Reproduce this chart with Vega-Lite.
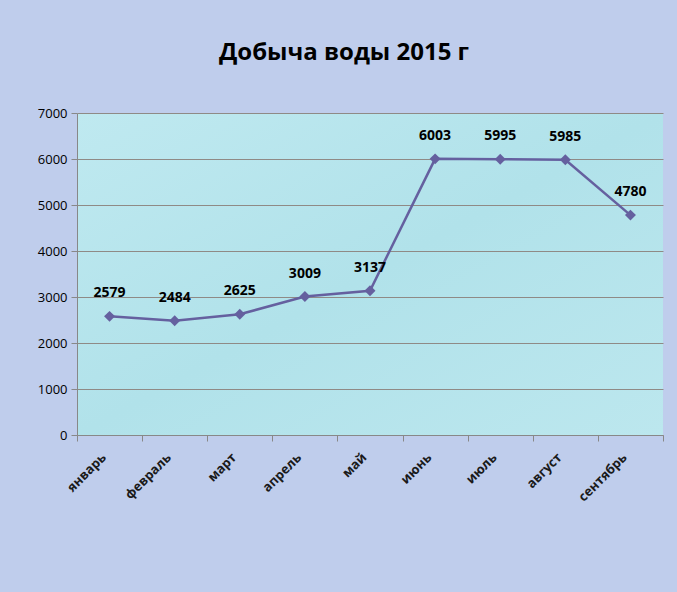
{
  "$schema": "https://vega.github.io/schema/vega-lite/v6.json",
  "autosize": "none",
  "width": 586,
  "height": 322,
  "padding": {"left": 77, "top": 113, "right": 14, "bottom": 157},
  "background": "#bfcdec",
  "title": {
    "text": "Добыча воды 2015 г",
    "font": "Open Sans",
    "fontSize": 24,
    "fontWeight": "bold",
    "color": "#000000",
    "anchor": "middle",
    "dx": -26,
    "offset": 42
  },
  "config": {
    "view": {
      "stroke": null,
      "fill": {
        "gradient": "linear",
        "x1": 0, "y1": 0, "x2": 1, "y2": 1,
        "stops": [
          {"offset": 0, "color": "#bfe9f0"},
          {"offset": 0.5, "color": "#b1e2ea"},
          {"offset": 1, "color": "#bce7ee"}
        ]
      }
    }
  },
  "data": {
    "values": [
      {"month": "январь", "value": 2579},
      {"month": "февраль", "value": 2484},
      {"month": "март", "value": 2625},
      {"month": "апрель", "value": 3009},
      {"month": "май", "value": 3137},
      {"month": "июнь", "value": 6003},
      {"month": "июль", "value": 5995},
      {"month": "август", "value": 5985},
      {"month": "сентябрь", "value": 4780}
    ]
  },
  "encoding": {
    "x": {
      "field": "month",
      "type": "nominal",
      "sort": null,
      "scale": {"type": "band", "paddingInner": 0, "paddingOuter": 0},
      "axis": {
        "title": null,
        "labelAngle": -45,
        "labelAlign": "right",
        "labelBaseline": "middle",
        "labelFont": "Open Sans",
        "labelFontSize": 13,
        "labelFontWeight": "bold",
        "labelColor": "#1a1a1a",
        "labelPadding": 14,
        "labelOffset": -6,
        "domainColor": "#888888",
        "tickColor": "#888888",
        "tickBand": "extent",
        "tickSize": 6,
        "grid": false
      }
    },
    "y": {
      "field": "value",
      "type": "quantitative",
      "scale": {"domain": [0, 7000], "nice": false},
      "axis": {
        "title": null,
        "values": [0, 1000, 2000, 3000, 4000, 5000, 6000, 7000],
        "format": "d",
        "labelFont": "Open Sans",
        "labelFontSize": 13,
        "labelColor": "#000000",
        "labelPadding": 4,
        "domainColor": "#888888",
        "tickColor": "#888888",
        "tickSize": 6,
        "gridColor": "#8f8a86",
        "gridWidth": 1,
        "gridOpacity": 1
      }
    }
  },
  "layer": [
    {
      "mark": {"type": "line", "color": "#65609f", "strokeWidth": 2.5}
    },
    {
      "mark": {"type": "point", "shape": "diamond", "filled": true, "color": "#65609f", "size": 120, "opacity": 1}
    },
    {
      "mark": {"type": "text", "dy": -23, "font": "Open Sans", "fontSize": 14, "fontWeight": "bold", "color": "#000000"},
      "encoding": {"text": {"field": "value", "type": "quantitative", "format": "d"}}
    }
  ]
}
